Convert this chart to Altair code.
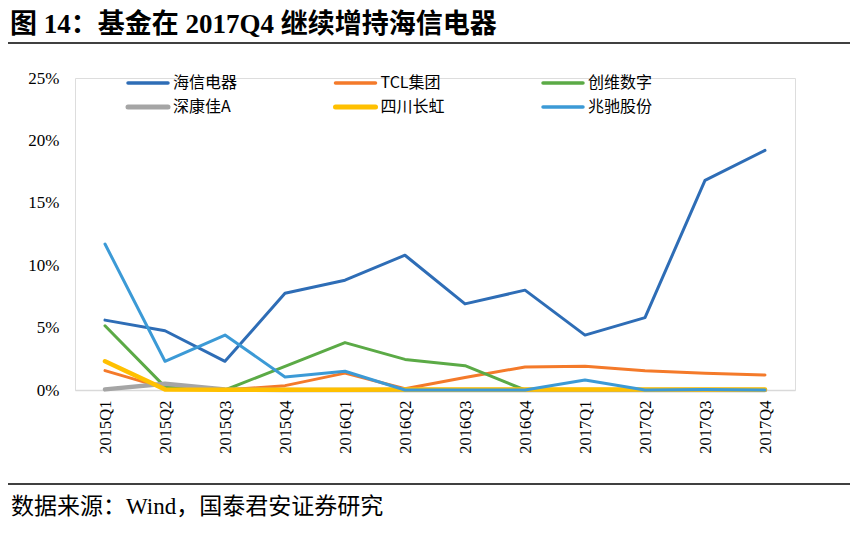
import altair as alt
import pandas as pd

quarters = ["2015Q1", "2015Q2", "2015Q3", "2015Q4", "2016Q1", "2016Q2",
            "2016Q3", "2016Q4", "2017Q1", "2017Q2", "2017Q3", "2017Q4"]

series_names = ["海信电器", "TCL集团", "创维数字", "深康佳A", "四川长虹", "兆驰股份"]
hisense = [5.6, 4.75, 2.3, 7.75, 8.8, 10.8, 6.9, 8.0, 4.4, 5.8, 16.8, 19.2]
tcl = [1.55, 0.15, 0.0, 0.35, 1.35, 0.1, 1.0, 1.85, 1.9, 1.55, 1.35, 1.2]
skyworth = [5.15, 0.25, 0.0, 1.9, 3.8, 2.45, 1.95, 0.0, 0.0, 0.0, 0.0, 0.0]
konka = [0.05, 0.5, 0.05, 0.0, 0.0, 0.0, 0.0, 0.0, 0.0, 0.0, 0.0, 0.0]
changhong = [2.3, 0.05, 0.03, 0.03, 0.03, 0.05, 0.05, 0.05, 0.05, 0.05, 0.05, 0.05]
mtc = [11.7, 2.3, 4.4, 1.05, 1.5, 0.0, 0.0, 0.0, 0.8, 0.0, 0.05, 0.0]

colors = ["#2E6DB6", "#F47A2A", "#5BAA46", "#A5A5A5", "#FFC000", "#3C9AD6"]
widths = [3, 3, 3, 4.5, 4.5, 3]

title_text = "图 14：基金在 2017Q4 继续增持海信电器"
source_text = "数据来源：Wind，国泰君安证券研究"

all_vals = [hisense, tcl, skyworth, konka, changhong, mtc]
rows = []
for si, (name, vals) in enumerate(zip(series_names, all_vals)):
    for q, v in zip(quarters, vals):
        rows.append({"quarter": q, "value": v, "series": name, "order": si,
                     "w": widths[si]})
df = pd.DataFrame(rows)

SERIF = "Liberation Serif, Times New Roman, Noto Sans CJK SC"
CJK = "Noto Sans CJK SC"

W, H = 720, 312

color_scale = alt.Scale(domain=series_names, range=colors)

lines = alt.Chart(df).mark_line(strokeCap="round", strokeJoin="round").encode(
    x=alt.X("quarter:N", sort=quarters, scale=alt.Scale(paddingInner=0, paddingOuter=0.5),
            axis=alt.Axis(title=None, labelAngle=-90, labelAlign="right", labelBaseline="middle",
                          labelPadding=10, labelFont=SERIF, labelFontSize=16.5, labelColor="#000",
                          ticks=False, domainColor="#D9D9D9", domainWidth=1.5, grid=False)),
    y=alt.Y("value:Q", scale=alt.Scale(domain=[0, 25]),
            axis=alt.Axis(title=None, values=[0, 5, 10, 15, 20, 25], labelExpr="datum.value + '%'",
                          labelFont=SERIF, labelFontSize=17, labelColor="#000", labelPadding=16,
                          ticks=False, domain=False, grid=False)),
    color=alt.Color("series:N", sort=series_names, scale=color_scale, legend=None),
    strokeWidth=alt.StrokeWidth("w:Q", scale=None, legend=None),
    order=alt.Order("order:Q"),
    detail="series:N",
)

# legend: 3 columns x 2 rows, built from the series list
legend_layers = []
for i, name in enumerate(series_names):
    col, row = i % 3, i // 3
    lx = 53 + col * 207.5
    ly = 5 + row * 24
    legend_layers.append(
        alt.Chart(pd.DataFrame({"series": [name]})).mark_rule(
            strokeWidth=widths[i] + 0.5, strokeCap="round").encode(
            x=alt.value(lx), x2=alt.value(lx + 40), y=alt.value(ly),
            color=alt.Color("series:N", scale=color_scale, legend=None))
    )
    legend_layers.append(
        alt.Chart(pd.DataFrame({"series": [name]})).mark_text(
            align="left", baseline="middle", font=CJK, fontSize=16, color="#000").encode(
            x=alt.value(lx + 45), y=alt.value(ly), text="series:N")
    )

title = alt.Chart(pd.DataFrame({"t": [title_text]})).mark_text(
    align="left", baseline="alphabetic", font=SERIF, fontSize=27, fontWeight="bold", color="#000"
).encode(x=alt.value(-65), y=alt.value(-45), text="t:N")

top_rule = alt.Chart(pd.DataFrame({"a": [0]})).mark_rule(color="#000", strokeWidth=1.5).encode(
    x=alt.value(-67), x2=alt.value(775), y=alt.value(-35))

bottom_rule = alt.Chart(pd.DataFrame({"a": [0]})).mark_rule(color="#000", strokeWidth=1.5).encode(
    x=alt.value(-67), x2=alt.value(775), y=alt.value(406))

source = alt.Chart(pd.DataFrame({"t": [source_text]})).mark_text(
    align="left", baseline="alphabetic", font=SERIF, fontSize=23, color="#000"
).encode(x=alt.value(-64), y=alt.value(436), text="t:N")

chart = alt.layer(lines, *legend_layers, title, top_rule, bottom_rule, source).properties(
    width=W, height=H,
    autosize=alt.AutoSizeParams(type="none"),
    padding={"left": 67, "top": 70, "right": 55, "bottom": 135},
).configure_view(stroke=None).configure(background="white")

chart.save("out.html", embed_options={"renderer": "svg", "actions": False})
